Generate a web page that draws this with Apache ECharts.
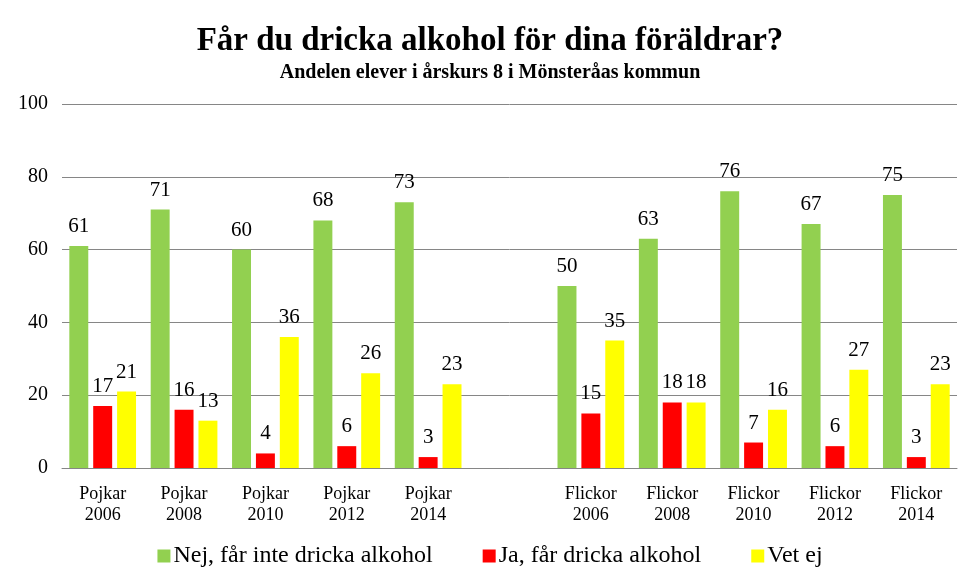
<!DOCTYPE html>
<html><head><meta charset="utf-8">
<script src="https://cdn.jsdelivr.net/npm/echarts@6/dist/echarts.min.js"></script>
<style>html,body{margin:0;padding:0;background:#fff}#c{width:980px;height:588px}</style>
</head><body><div id="c"></div>
<script>
const categories = ["Pojkar\n2006","Pojkar\n2008","Pojkar\n2010","Pojkar\n2012","Pojkar\n2014","","Flickor\n2006","Flickor\n2008","Flickor\n2010","Flickor\n2012","Flickor\n2014"];
const seriesNames = ["Nej, får inte dricka alkohol","Ja, får dricka alkohol","Vet ej"];
const nej = [61,71,60,68,73,null,50,63,76,67,75];
const ja = [17,16,4,6,3,null,15,18,7,6,3];
const vetEj = [21,13,36,26,23,null,35,18,16,27,23];
const yTicks = [0,20,40,60,80,100];

const serif = "'Liberation Serif','Times New Roman',serif";
const colors = ['#92D050','#FF0000','#FFFF00'];
const chart = echarts.init(document.getElementById('c'));
const mk = (name, data, color) => ({
  name, type:'bar', data, barGap:'26%', barCategoryGap:'18%',
  itemStyle:{color},
  label:{show:true, position:'top', distance:9, fontFamily:serif, fontSize:21, color:'#000'}
});
chart.setOption({
  animation:false,
  title:{
    text:'Får du dricka alkohol för dina föräldrar?',
    subtext:'Andelen elever i årskurs 8 i Mönsteråas kommun',
    left:'center', top:20, itemGap:5,
    textStyle:{fontFamily:serif, fontWeight:'bold', fontSize:33, color:'#000'},
    subtextStyle:{fontFamily:serif, fontWeight:'bold', fontSize:20, color:'#000'}
  },
  legend:{
    bottom:15, left:'center', itemWidth:13, itemHeight:13, itemGap:50, icon:'rect',
    textStyle:{fontFamily:serif, fontSize:24, color:'#000', padding:[0,0,0,-2]},
    data:seriesNames
  },
  grid:{left:62, right:23, top:104, bottom:120},
  xAxis:{
    type:'category', data:categories,
    axisLine:{lineStyle:{color:'#868686'}},
    axisTick:{show:false},
    axisLabel:{fontFamily:serif, fontSize:18, color:'#000', lineHeight:21, margin:16, interval:0}
  },
  yAxis:{
    type:'value', min:yTicks[0], max:yTicks[yTicks.length-1], interval:20,
    axisLine:{show:false}, axisTick:{show:false},
    splitLine:{lineStyle:{color:'#868686'}},
    axisLabel:{fontFamily:serif, fontSize:20, color:'#000', margin:14}
  },
  series:[mk(seriesNames[0], nej, colors[0]), mk(seriesNames[1], ja, colors[1]), mk(seriesNames[2], vetEj, colors[2])]
});
</script></body></html>
